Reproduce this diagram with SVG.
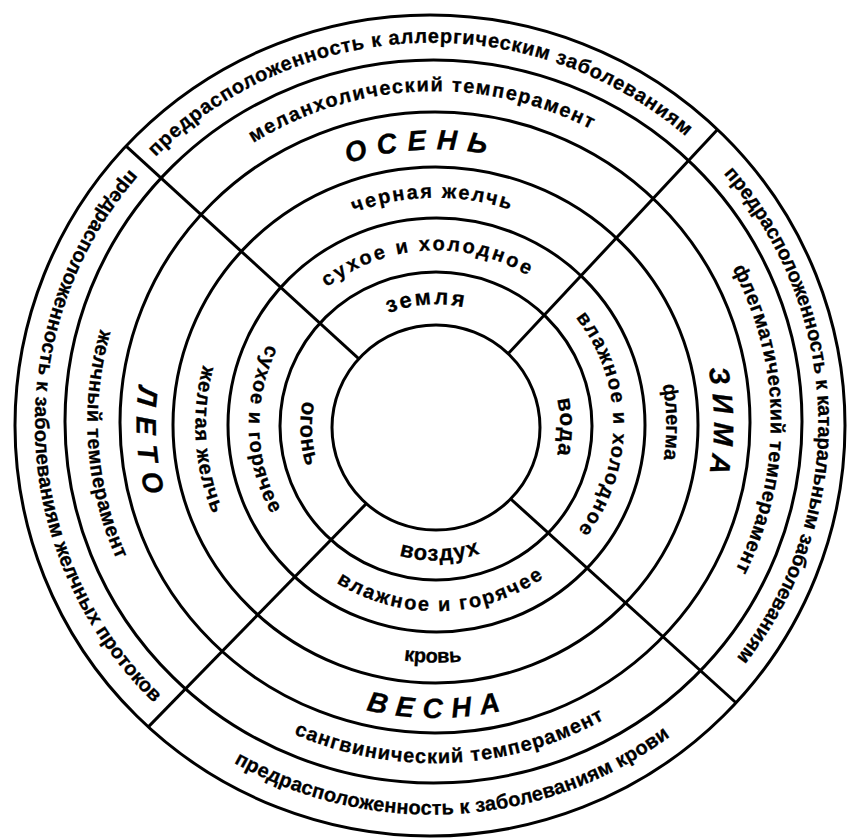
<svg xmlns="http://www.w3.org/2000/svg" width="848" height="839" viewBox="0 0 848 839">
<defs>
<style>
.ring{fill:none;stroke:#000;stroke-width:3}
.t{font-family:"Liberation Sans",Arial,sans-serif;font-weight:bold;font-size:20px;fill:#000;stroke:#000;stroke-width:0.3}
.t2{font-size:22px}
.s{font-size:28px;font-style:italic}
</style>
<clipPath id="clipOuter"><ellipse cx="430" cy="425.5" rx="415" ry="410.5"/></clipPath>
<path id="pT7" d="M155.56 157.05 A386.55 380.8 0 0 1 687.88 138.28"/>
<path id="pT6" d="M253.42 143.0 A336.55 330.8 0 0 1 592.77 130.2"/>
<path id="pT5" d="M347.72 163.38 A278.75 274.25 0 0 1 487.49 154.35"/>
<path id="pT4" d="M353.85 212.66 A230.3 227.3 0 0 1 510.98 210.09"/>
<path id="pT3" d="M327.24 287.36 A177.05 175.3 0 0 1 527.96 275.55"/>
<path id="pT2" d="M388.63 313.45 A124.3 122.55 0 0 1 463.53 307.25"/>
<path id="pR2" d="M557.07 398.97 A124.3 122.55 0 0 1 557.07 454.53"/>
<path id="pR3" d="M575.76 317.57 A177.05 175.3 0 0 1 578.58 529.77"/>
<path id="pR4" d="M662.66 384.74 A230.3 227.3 0 0 1 663.77 458.60"/>
<path id="pR5" d="M708.31 368.60 A278.75 274.25 0 0 1 709.60 472.32"/>
<path id="pR6" d="M732.50 268.74 A336.55 330.8 0 0 1 736.24 568.05"/>
<path id="pR7" d="M723.48 173.66 A386.55 380.8 0 0 1 738.44 655.33"/>
<path id="pB2" d="M399.05 555.64 A135.7 133.95 0 0 0 480.40 553.33"/>
<path id="pB3" d="M336.36 582.64 A187.45 185.7 0 0 0 543.77 577.62"/>
<path id="pB4" d="M403.75 660.56 A240.7 237.7 0 0 0 462.0 661.32"/>
<path id="pB5" d="M366.03 710.0 A298.75 294.25 0 0 0 501.42 710.67"/>
<path id="pB6" d="M293.70 733.96 A346.95 341.2 0 0 0 606.68 718.09"/>
<path id="pB7" d="M233.87 762.63 A396.95 391.2 0 0 0 672.30 734.70"/>
<path id="pL2" d="M302.84 400.96 A135.7 133.95 0 0 0 306.30 466.13"/>
<path id="pL3" d="M267.62 344.39 A187.45 185.7 0 0 0 271.20 513.54"/>
<path id="pL4" d="M202.98 365.48 A240.7 237.7 0 0 0 212.20 512.50"/>
<path id="pL5" d="M138.98 385.85 A298.75 294.25 0 0 0 145.14 493.93"/>
<path id="pL6" d="M100.24 329.67 A346.95 341.2 0 0 0 115.82 557.49"/>
<path id="pL7" d="M129.91 169.45 A396.95 391.2 0 0 0 151.54 700.59"/>
</defs>
<rect width="848" height="839" fill="#fff"/>

<g id="dividers" clip-path="url(#clipOuter)" stroke="#000" stroke-width="3">
<line x1="381.1" y1="379.1" x2="109.7" y2="131.2"/>
<line x1="490" y1="373.2" x2="736" y2="109.8"/>
<line x1="495.8" y1="485.5" x2="760" y2="724.5"/>
<line x1="380.2" y1="489.4" x2="131" y2="744.6"/>
</g>

<g id="rings">
<ellipse class="ring" cx="430" cy="425.5" rx="415" ry="410.5"/>
<ellipse class="ring" cx="433.5" cy="421.5" rx="368.5" ry="361.5"/>
<ellipse class="ring" cx="435" cy="422.5" rx="315" ry="310.5"/>
<ellipse class="ring" cx="435.5" cy="425" rx="262.5" ry="258"/>
<ellipse class="ring" cx="436.5" cy="425" rx="208.5" ry="207"/>
<ellipse class="ring" cx="436" cy="426" rx="156" ry="154"/>
<ellipse class="ring" cx="436" cy="427.5" rx="104" ry="102.5" style="fill:#fff"/>
</g>

<g id="autumn">
<text class="t"><textPath href="#pT7" textLength="583" lengthAdjust="spacing">предрасположенность к аллергическим заболеваниям</textPath></text>
<text class="t"><textPath href="#pT6" textLength="353" lengthAdjust="spacing">меланхолический темперамент</textPath></text>
<text class="t s"><textPath href="#pT5" textLength="140" lengthAdjust="spacing">ОСЕНЬ</textPath></text>
<text class="t"><textPath href="#pT4" textLength="159" lengthAdjust="spacing">черная желчь</textPath></text>
<text class="t"><textPath href="#pT3" textLength="213" lengthAdjust="spacing">сухое и холодное</textPath></text>
<text class="t t2"><textPath href="#pT2" textLength="76" lengthAdjust="spacing">земля</textPath></text>
</g>
<g id="winter">
<text class="t t2"><textPath href="#pR2" textLength="56" lengthAdjust="spacing">вода</textPath></text>
<text class="t"><textPath href="#pR3" textLength="229" lengthAdjust="spacing">влажное и холодное</textPath></text>
<text class="t"><textPath href="#pR4" textLength="75" lengthAdjust="spacing">флегма</textPath></text>
<text class="t s"><textPath href="#pR5" textLength="105" lengthAdjust="spacing">ЗИМА</textPath></text>
<text class="t"><textPath href="#pR6" textLength="313" lengthAdjust="spacing">флегматический темперамент</textPath></text>
<text class="t"><textPath href="#pR7" textLength="526" lengthAdjust="spacing">предрасположенность к катаральным заболеваниям</textPath></text>
</g>
<g id="spring">
<text class="t t2"><textPath href="#pB2" textLength="82" lengthAdjust="spacing">воздух</textPath></text>
<text class="t"><textPath href="#pB3" textLength="219" lengthAdjust="spacing">влажное и горячее</textPath></text>
<text class="t"><textPath href="#pB4" textLength="58" lengthAdjust="spacing">кровь</textPath></text>
<text class="t s"><textPath href="#pB5" textLength="136" lengthAdjust="spacing">ВЕСНА</textPath></text>
<text class="t"><textPath href="#pB6" textLength="322" lengthAdjust="spacing">сангвинический темперамент</textPath></text>
<text class="t"><textPath href="#pB7" textLength="462" lengthAdjust="spacing">предрасположенность к заболеваниям крови</textPath></text>
</g>
<g id="summer">
<text class="t t2"><textPath href="#pL2" textLength="66" lengthAdjust="spacing">огонь</textPath></text>
<text class="t"><textPath href="#pL3" textLength="176" lengthAdjust="spacing">сухое и горячее</textPath></text>
<text class="t"><textPath href="#pL4" textLength="151" lengthAdjust="spacing">желтая желчь</textPath></text>
<text class="t s"><textPath href="#pL5" textLength="110" lengthAdjust="spacing">ЛЕТО</textPath></text>
<text class="t"><textPath href="#pL6" textLength="235" lengthAdjust="spacing">желчный темперамент</textPath></text>
<text class="t"><textPath href="#pL7" textLength="589" lengthAdjust="spacing">предрасположенность к заболеваниям желчных протоков</textPath></text>
</g>
</svg>
